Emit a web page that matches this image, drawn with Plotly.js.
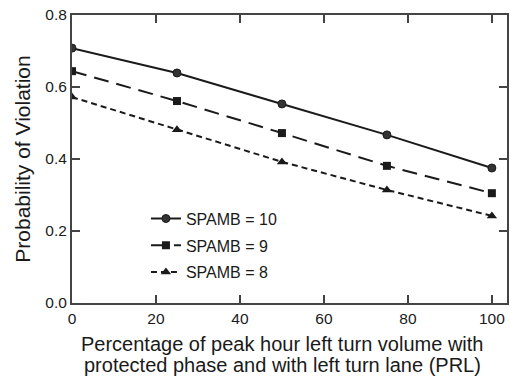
<!DOCTYPE html>
<html>
<head>
<meta charset="utf-8">
<script src="https://cdn.plot.ly/plotly-3.0.1.min.js"></script>
<style>html,body{margin:0;padding:0;background:#fff;}#chart{width:510px;height:377px;}</style>
</head>
<body>
<div id="chart"></div>
<script>
const xValues = [0, 25, 50, 75, 100];
const spamb10 = [0.708, 0.639, 0.553, 0.467, 0.375];
const spamb9 = [0.644, 0.561, 0.472, 0.381, 0.305];
const spamb8 = [0.572, 0.481, 0.392, 0.314, 0.242];
const seriesNames = ['SPAMB = 10', 'SPAMB = 9', 'SPAMB = 8'];
const xTickVals = [0, 20, 40, 60, 80, 100];
const yTickVals = [0.0, 0.2, 0.4, 0.6, 0.8];
const yTickText = ['0.0', '0.2', '0.4', '0.6', '0.8'];
const xTitleLines = ['Percentage of peak hour left turn volume with', 'protected phase and with left turn lane (PRL)'];
const yTitle = 'Probability of Violation';

const ink = '#1a1a1a';
const fam = 'Liberation Sans, Arial, sans-serif';
const traces = [
  {x: xValues, y: spamb10, name: seriesNames[0], legendgroup: 'a', mode: 'lines+markers',
   line: {color: ink, width: 2, dash: 'solid'}, marker: {symbol: 'circle', size: 8, color: '#333', line: {color: ink, width: 1}}},
  {x: xValues, y: spamb9, name: seriesNames[1], legendgroup: 'b', mode: 'lines+markers',
   line: {color: ink, width: 2, dash: '15px,8px'}, marker: {symbol: 'square', size: 8, color: ink}},
  {x: xValues, y: spamb8, name: seriesNames[2], legendgroup: 'c', mode: 'lines+markers',
   line: {color: ink, width: 2, dash: '6px,4px'}, marker: {symbol: 'triangle-up', size: 9, color: ink}}
];

const axisCommon = {
  showline: true, linecolor: '#444', linewidth: 2, mirror: 'ticks',
  ticks: 'inside', ticklen: 8, tickwidth: 1.5, tickcolor: '#444',
  showgrid: false, zeroline: false,
  tickfont: {family: fam, size: 15.5, color: ink}
};

const layout = {
  width: 510, height: 377,
  margin: {l: 72, r: 3, t: 15, b: 74},
  paper_bgcolor: '#fff', plot_bgcolor: '#fff',
  font: {family: fam, color: ink},
  showlegend: true,
  legend: {x: 0.17, y: 0.352, xanchor: 'left', yanchor: 'top', bgcolor: 'rgba(0,0,0,0)',
    font: {size: 16, color: ink}, tracegroupgap: 3},
  xaxis: Object.assign({}, axisCommon, {
    range: [0, 103.6], tickvals: xTickVals
  }),
  yaxis: Object.assign({}, axisCommon, {
    range: [0, 0.8], tickvals: yTickVals, ticktext: yTickText,
    title: {text: yTitle, font: {size: 21, color: ink}, standoff: 9}
  }),
  annotations: [
    {text: xTitleLines[0], xref: 'paper', yref: 'paper', x: 0.483, y: -0.143, xanchor: 'center', yanchor: 'middle',
     showarrow: false, font: {family: fam, size: 20, color: ink}},
    {text: xTitleLines[1], xref: 'paper', yref: 'paper', x: 0.483, y: -0.215, xanchor: 'center', yanchor: 'middle',
     showarrow: false, font: {family: fam, size: 20, color: ink}}
  ]
};

Plotly.newPlot('chart', traces, layout, {displayModeBar: false, staticPlot: true});
</script>
</body>
</html>
